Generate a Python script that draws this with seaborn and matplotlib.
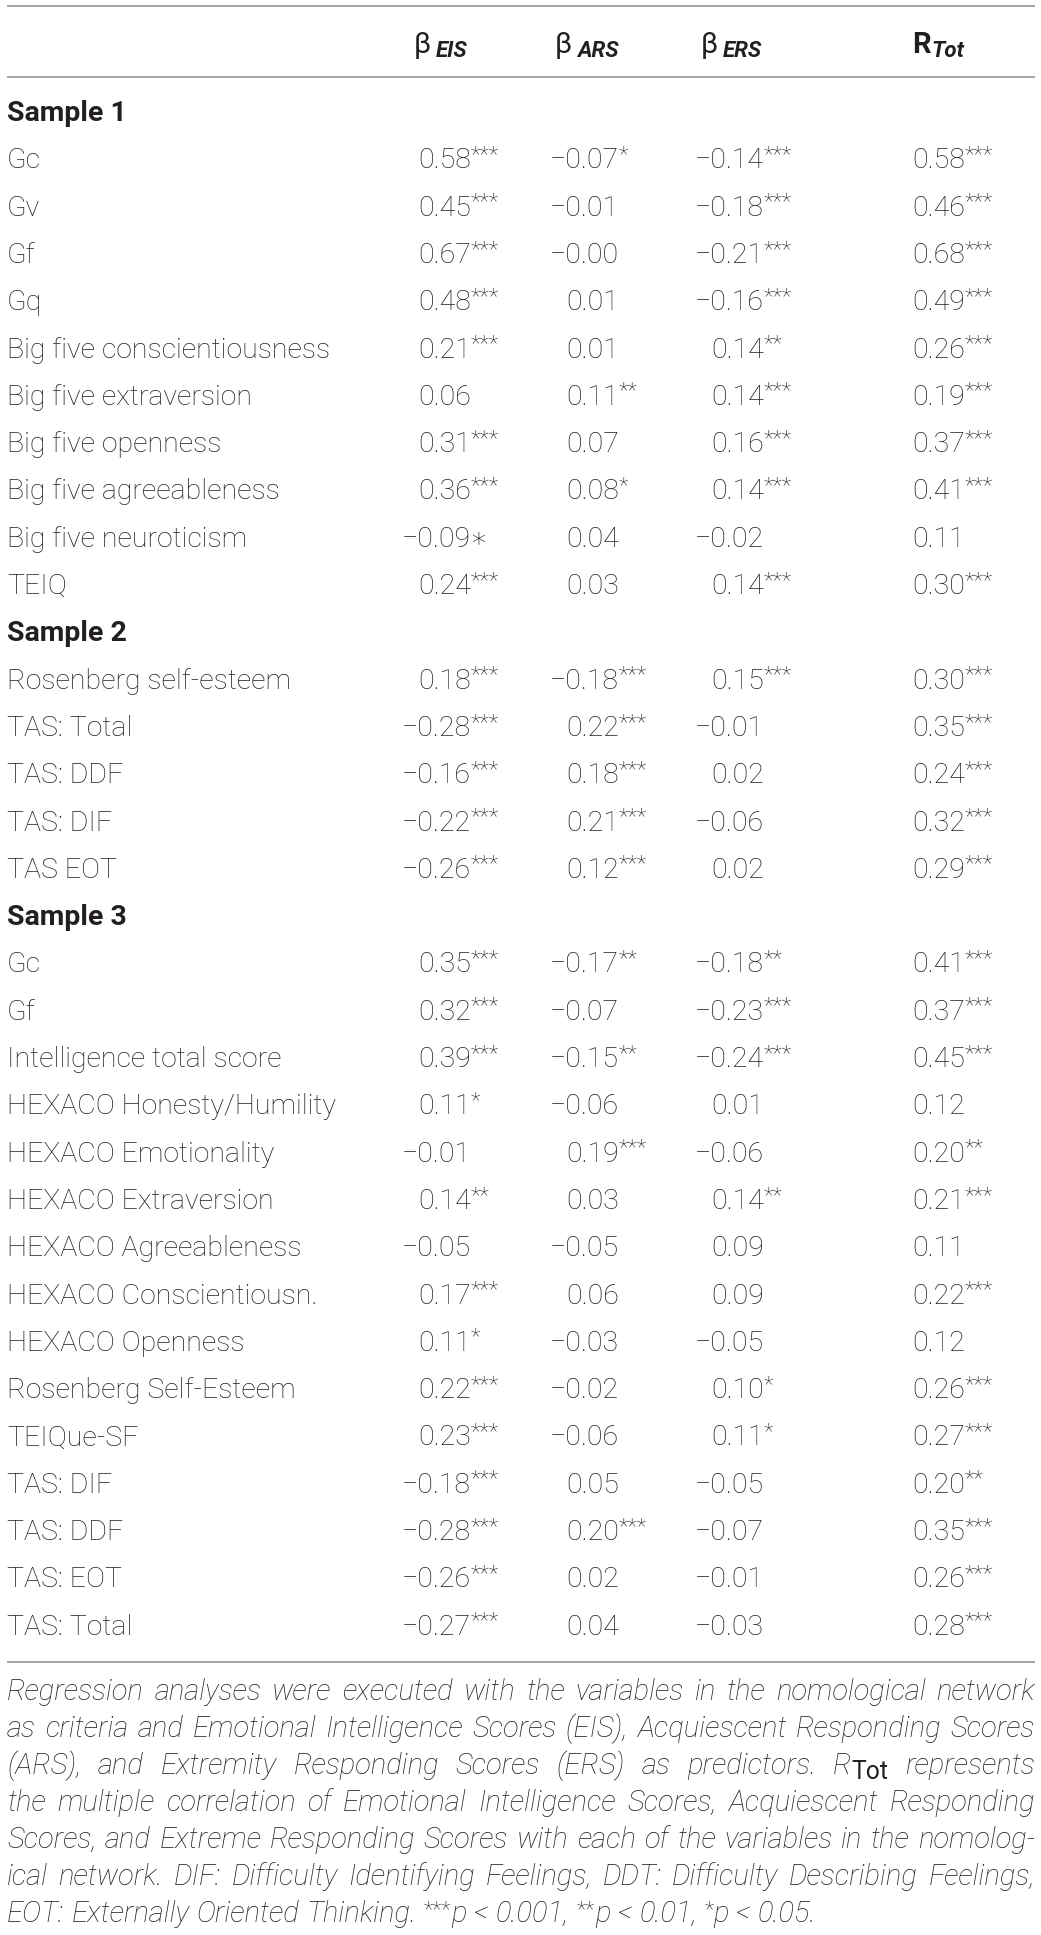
import numpy as np
import pandas as pd
import matplotlib
matplotlib.use("Agg")
import matplotlib.pyplot as plt
import seaborn as sns

# ---- table content ----
SECTIONS = ["Sample 1", "Sample 2", "Sample 3"]
SECTION_SIZES = [10, 5, 15]

ROW_LABELS = [
    "Gc", "Gv", "Gf", "Gq", "Big five conscientiousness", "Big five extraversion",
    "Big five openness", "Big five agreeableness", "Big five neuroticism", "TEIQ",
    "Rosenberg self-esteem", "TAS: Total", "TAS: DDF", "TAS: DIF", "TAS EOT",
    "Gc", "Gf", "Intelligence total score", "HEXACO Honesty/Humility",
    "HEXACO Emotionality", "HEXACO Extraversion", "HEXACO Agreeableness",
    "HEXACO Conscientiousn.", "HEXACO Openness", "Rosenberg Self-Esteem",
    "TEIQue-SF", "TAS: DIF", "TAS: DDF", "TAS: EOT", "TAS: Total",
]

beta_eis = [0.58, 0.45, 0.67, 0.48, 0.21, 0.06, 0.31, 0.36, -0.09, 0.24,
            0.18, -0.28, -0.16, -0.22, -0.26,
            0.35, 0.32, 0.39, 0.11, -0.01, 0.14, -0.05, 0.17, 0.11, 0.22,
            0.23, -0.18, -0.28, -0.26, -0.27]
sig_eis = ["***", "***", "***", "***", "***", "", "***", "***", "\u2217", "***",
           "***", "***", "***", "***", "***",
           "***", "***", "***", "*", "", "**", "", "***", "*", "***",
           "***", "***", "***", "***", "***"]

beta_ars = [-0.07, -0.01, -0.0, 0.01, 0.01, 0.11, 0.07, 0.08, 0.04, 0.03,
            -0.18, 0.22, 0.18, 0.21, 0.12,
            -0.17, -0.07, -0.15, -0.06, 0.19, 0.03, -0.05, 0.06, -0.03, -0.02,
            -0.06, 0.05, 0.20, 0.02, 0.04]
sig_ars = ["*", "", "", "", "", "**", "", "*", "", "",
           "***", "***", "***", "***", "***",
           "**", "", "**", "", "***", "", "", "", "", "",
           "", "", "***", "", ""]

beta_ers = [-0.14, -0.18, -0.21, -0.16, 0.14, 0.14, 0.16, 0.14, -0.02, 0.14,
            0.15, -0.01, 0.02, -0.06, 0.02,
            -0.18, -0.23, -0.24, 0.01, -0.06, 0.14, 0.09, 0.09, -0.05, 0.10,
            0.11, -0.05, -0.07, -0.01, -0.03]
sig_ers = ["***", "***", "***", "***", "**", "***", "***", "***", "", "***",
           "***", "", "", "", "",
           "**", "***", "***", "", "", "**", "", "", "", "*",
           "*", "", "", "", ""]

r_tot = [0.58, 0.46, 0.68, 0.49, 0.26, 0.19, 0.37, 0.41, 0.11, 0.30,
         0.30, 0.35, 0.24, 0.32, 0.29,
         0.41, 0.37, 0.45, 0.12, 0.20, 0.21, 0.11, 0.22, 0.12, 0.26,
         0.27, 0.20, 0.35, 0.26, 0.28]
sig_tot = ["***", "***", "***", "***", "***", "***", "***", "***", "", "***",
           "***", "***", "***", "***", "***",
           "***", "***", "***", "", "**", "***", "", "***", "", "***",
           "***", "**", "***", "***", "***"]

HEAD_MAIN = ["\u03b2", "\u03b2", "\u03b2", "R"]
HEAD_SUB = ["EIS", "ARS", "ERS", "Tot"]

NOTE_LINES = [
    "Regression analyses were executed with the variables in the nomological network",
    "as criteria and Emotional Intelligence Scores (EIS), Acquiescent Responding Scores",
    "(ARS), and Extremity Responding Scores (ERS) as predictors. R_Tot represents",
    "the multiple correlation of Emotional Intelligence Scores, Acquiescent Responding",
    "Scores, and Extreme Responding Scores with each of the variables in the nomolog-",
    "ical network. DIF: Difficulty Identifying Feelings, DDT: Difficulty Describing Feelings,",
    "EOT: Externally Oriented Thinking. ***p < 0.001, **p < 0.01, *p < 0.05.",
]

table = pd.DataFrame({
    "label": ROW_LABELS,
    "eis": beta_eis, "eis_sig": sig_eis,
    "ars": beta_ars, "ars_sig": sig_ars,
    "ers": beta_ers, "ers_sig": sig_ers,
    "tot": r_tot, "tot_sig": sig_tot,
})
COLS = [("eis", "eis_sig"), ("ars", "ars_sig"), ("ers", "ers_sig"), ("tot", "tot_sig")]

# ---- style ----
sns.set_theme(style="white")
plt.rcParams["font.family"] = ["Roboto", "DejaVu Sans"]

INK = "#231f20"
RULE = "#a3a3a3"
FS = 20.5
LEFT, RIGHT = 7, 1035
COL_RIGHT = [471, 619, 764, 965]
HEAD_X = [414, 555, 701, 912]
ROW_TOP = 121
ROW_STEP = 47.3

fig = plt.figure(figsize=(10.41, 19.35), dpi=100)
ax = fig.add_axes([0, 0, 1, 1])
ax.set_xlim(0, 1041)
ax.set_ylim(1935, 0)
ax.axis("off")
renderer = fig.canvas.get_renderer()


def width(t):
    return t.get_window_extent(renderer).width


def fmt(v):
    return f"{v:.2f}".replace("-", "\u2212")


# rules
for y in (6, 77, 1662):
    ax.plot([LEFT, RIGHT], [y, y], color=RULE, lw=1.4, solid_capstyle="butt")

# header
for x, main, sub in zip(HEAD_X, HEAD_MAIN, HEAD_SUB):
    if main == "R":
        t = ax.text(x, 53, main, fontsize=21, fontweight="bold", color=INK, va="baseline")
        gap = 1
    else:
        t = ax.text(x, 53, main, fontsize=21, fontweight="normal", color=INK, va="baseline")
        gap = 5
    ax.text(x + width(t) + gap, 57, sub, fontsize=16, fontweight="bold",
            fontstyle="italic", color=INK, va="baseline")

# body
line = 0
r = 0
for name, n in zip(SECTIONS, SECTION_SIZES):
    ax.text(LEFT, ROW_TOP + ROW_STEP * line, name, fontsize=FS,
            fontweight="bold", color=INK, va="baseline")
    line += 1
    for _ in range(n):
        y = ROW_TOP + ROW_STEP * line
        row = table.iloc[r]
        ax.text(LEFT, y, row["label"], fontsize=FS, fontweight="light",
                color=INK, va="baseline")
        for xr, (vc, sc) in zip(COL_RIGHT, COLS):
            ax.text(xr, y, fmt(row[vc]), fontsize=FS, fontweight="light",
                    color=INK, va="baseline", ha="right")
            sig = row[sc]
            if sig == "\u2217":
                ax.text(xr - 2, y, sig, fontsize=FS, fontweight="light",
                        color=INK, va="baseline", ha="left",
                        family=["DejaVu Sans"])
            elif sig:
                ax.text(xr, y - 7, sig, fontsize=16, fontweight="light",
                        color=INK, va="baseline", ha="left")
        r += 1
        line += 1


# footnote, justified word by word
def make_word(word, y, fs):
    segs = []
    if word.startswith("R_Tot"):
        segs.append(ax.text(0, y, "R", fontsize=fs, fontstyle="italic",
                            fontweight="light", color=INK, va="baseline"))
        segs.append(ax.text(0, y + 5, "Tot", fontsize=fs * 0.85,
                            fontweight="normal", color=INK, va="baseline"))
        rest = word[5:]
        if rest:
            segs.append(ax.text(0, y, rest, fontsize=fs, fontstyle="italic",
                                fontweight="light", color=INK, va="baseline"))
    else:
        stars = len(word) - len(word.lstrip("*"))
        if stars:
            segs.append(ax.text(0, y - 6, "*" * stars, fontsize=fs * 0.75,
                                fontweight="light", color=INK, va="baseline"))
        segs.append(ax.text(0, y, word[stars:], fontsize=fs, fontstyle="italic",
                            fontweight="light", color=INK, va="baseline"))
    widths = [width(s) for s in segs]
    return segs, widths


def layout_note(fs):
    out = []
    for i, text in enumerate(NOTE_LINES):
        y = 1700 + 37 * i
        out.append([make_word(w, y, fs) for w in text.split(" ")])
    return out


note_fs = 21
words_by_line = layout_note(note_fs)
need = 1.0
for words in words_by_line[:-1]:
    total = sum(sum(w) for _, w in words)
    need = max(need, (total + 5 * (len(words) - 1)) / (RIGHT - LEFT))
if need > 1.0:
    for words in words_by_line:
        for segs, _ in words:
            for s in segs:
                s.remove()
    note_fs = note_fs / need
    words_by_line = layout_note(note_fs)

space = note_fs * 100 / 72 * 0.25
for i, words in enumerate(words_by_line):
    total = sum(sum(w) for _, w in words)
    if i < len(words_by_line) - 1 and len(words) > 1:
        gap = (RIGHT - LEFT - total) / (len(words) - 1)
    else:
        gap = space
    x = LEFT
    for segs, ws in words:
        for s, w in zip(segs, ws):
            s.set_x(x)
            x += w
        x += gap

fig.savefig("out.png", dpi=100, facecolor="white")
